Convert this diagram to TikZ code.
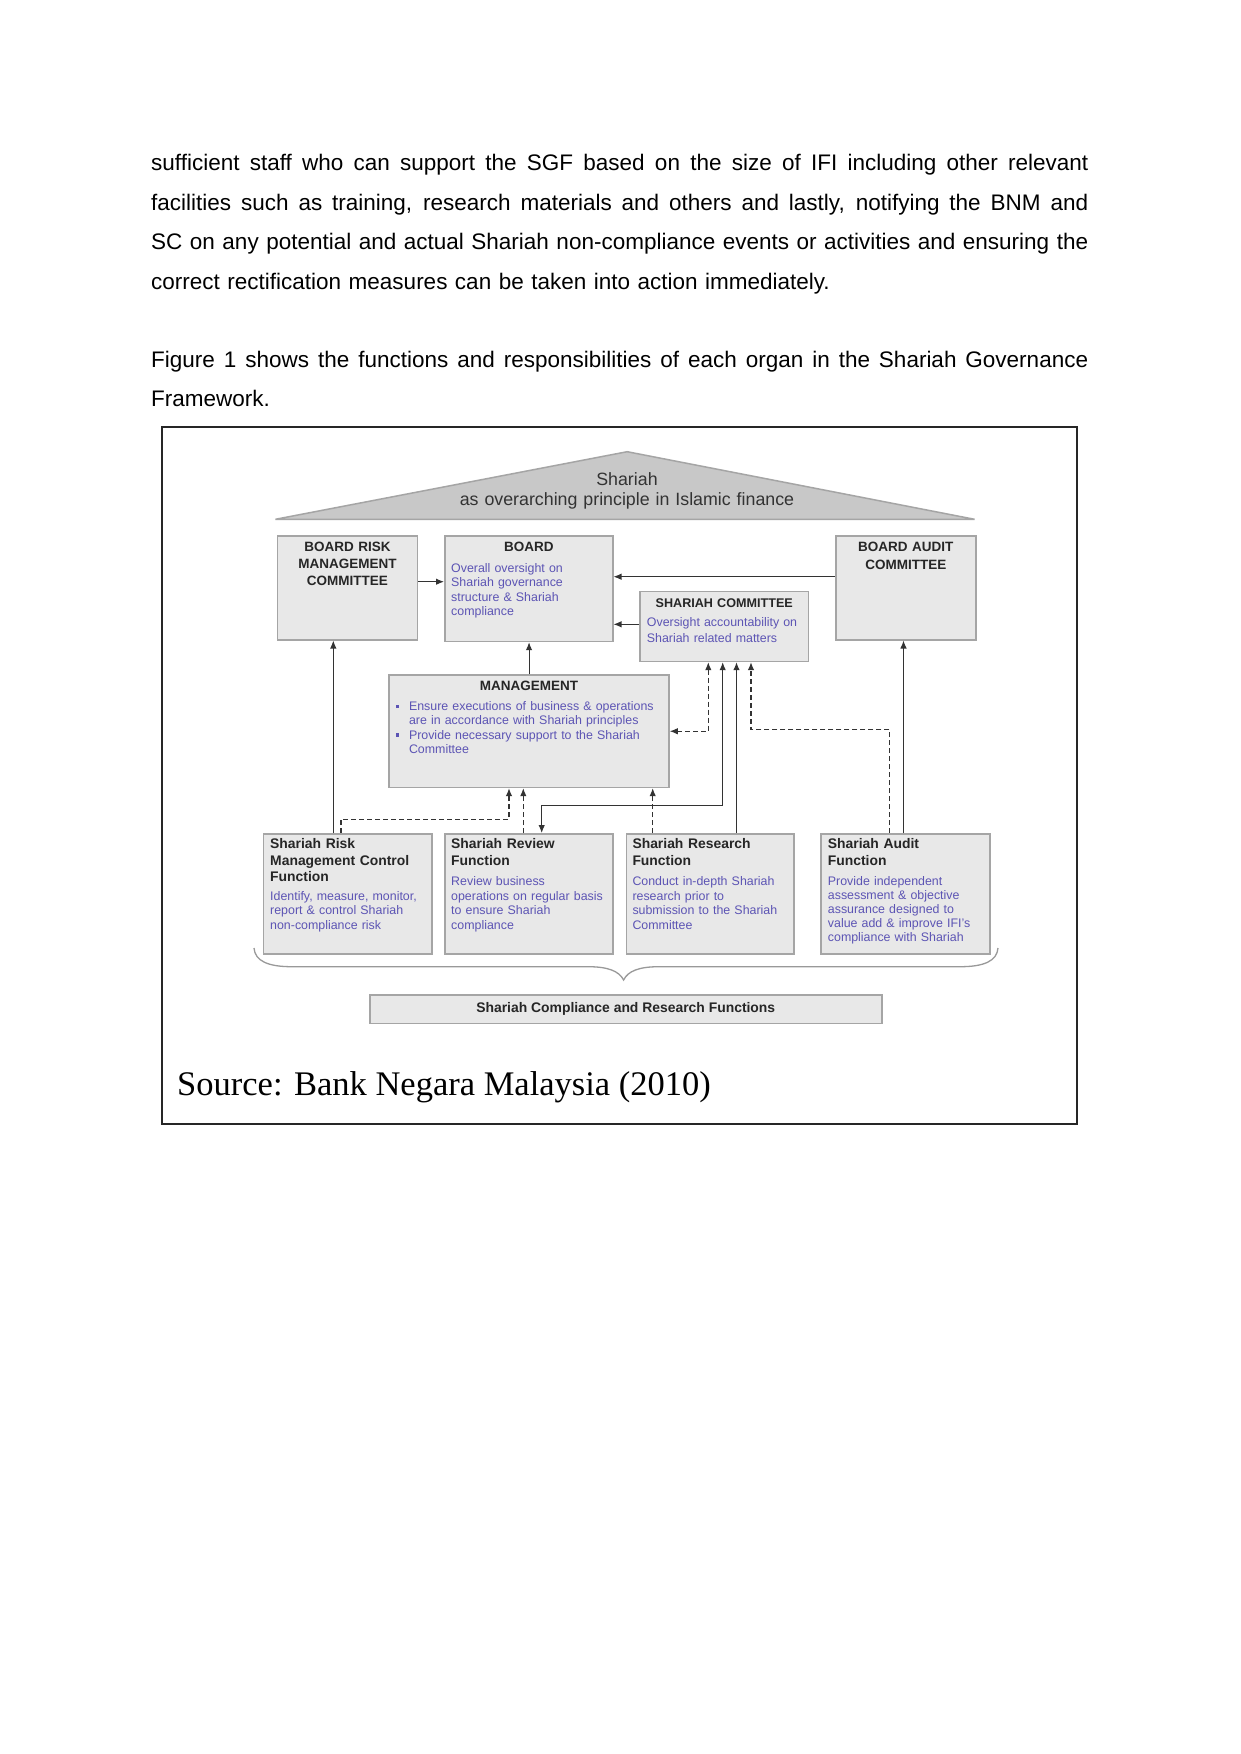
\documentclass[tikz,border=0pt]{standalone}
\usepackage{fontspec}
\setmainfont{Liberation Sans}
\newfontfamily\srcfont{Liberation Serif}
\usepackage{xcolor}
\usepackage{tikz}
\usetikzlibrary{arrows.meta,positioning}

\definecolor{fnblue}{RGB}{92,84,180}
\definecolor{boxgray}{RGB}{232,232,232}
\definecolor{edgegray}{RGB}{165,165,165}
\definecolor{roofgray}{RGB}{200,200,200}
\newcommand{\jline}[1]{\leavevmode\hbox to 937pt{\spaceskip=0.25em plus 1fil\relax #1}}
\newcommand{\bul}{\makebox[13.5pt][l]{\raisebox{2.6pt}{\rule{3.4pt}{3.4pt}}}}

\begin{document}
\begin{tikzpicture}[
    x=1pt, y=-1pt,
    orgbox/.style={rectangle, draw=edgegray, fill=boxgray, line width=1.5pt, anchor=north west, inner sep=0pt},
    ttl/.style={anchor=base, inner sep=0pt, align=center, text=black!85, font=\bfseries\fontsize{13.5}{16.7}\selectfont},
    ftl/.style={anchor=base west, inner sep=0pt, align=left, text width=170pt, text=black!85, font=\bfseries\fontsize{13.9}{16.7}\selectfont},
    desc/.style={anchor=base west, inner sep=0pt, align=left, text width=320pt, text=fnblue, font=\fontsize{12.4}{14.4}\selectfont},
    para/.style={anchor=base west, inner sep=0pt, align=left, text width=960pt, font=\fontsize{22.5}{39.5}\selectfont},
    arrow/.style={-{Latex[length=8pt,width=6.5pt]}, line width=1.1pt, draw=black!80},
    barrow/.style={{Latex[length=8pt,width=6.5pt]}-{Latex[length=8pt,width=6.5pt]}, line width=1.1pt, draw=black!80},
    dashed arrow/.style={arrow, dash pattern=on 5pt off 3pt},
    dashed barrow/.style={barrow, dash pattern=on 5pt off 3pt}
]
    \fill[white] (0,0) rectangle (1241,1754);
    \useasboundingbox (0,0) rectangle (1241,1754);

    % running text above the figure
    \node[para] (p1) at (151,170.7) {\jline{sufficient staff who can support the SGF based on the size of IFI including other relevant}\\\jline{facilities such as training, research materials and others and lastly, notifying the BNM and}\\\jline{SC on any potential and actual Shariah non-compliance events or activities and ensuring the}\\correct rectification measures can be taken into action immediately.};
    \node[para] (p2) at (151,367.3) {\jline{Figure 1 shows the functions and responsibilities of each organ in the Shariah Governance}\\Framework.};

    % frame and roof
    \draw[line width=2.8pt, black!85] (162,427) rectangle (1077,1124);
    \filldraw[fill=roofgray, draw=edgegray, line width=1.5pt] (275.4,519.3) -- (627.2,451.7) -- (974.6,519.3) -- cycle;
    \node[anchor=base, inner sep=0pt, align=center, text width=400pt, text=black!80, font=\fontsize{17.8}{20.5}\selectfont] (roof) at (627,485) {Shariah\\as overarching principle in Islamic finance};

    % board level
    \node[orgbox, minimum width=140pt, minimum height=104pt] (brmc) at (276.7,535) {};
    \node[ttl, text width=140pt] (brmc-t) at ([shift={(0,16.7)}]brmc.north) {BOARD RISK\\MANAGEMENT\\COMMITTEE};

    \node[orgbox, minimum width=168pt, minimum height=105.7pt] (board) at (444,535) {};
    \node[ttl, text width=168pt] (board-t) at ([shift={(0,16.7)}]board.north) {BOARD};
    \node[desc, font=\fontsize{12.4}{14.6}\selectfont] (board-d) at ([shift={(7,37)}]board.north west) {Overall oversight on\\Shariah governance\\structure \& Shariah\\compliance};

    \node[orgbox, minimum width=168.4pt, minimum height=70pt] (shc) at (639.3,590.7) {};
    \node[ttl, text width=168pt, font=\bfseries\fontsize{12.6}{15}\selectfont] (shc-t) at ([shift={(0,16.6)}]shc.north) {SHARIAH COMMITTEE};
    \node[desc, font=\fontsize{12.4}{16.6}\selectfont] (shc-d) at ([shift={(7.4,35.3)}]shc.north west) {Oversight accountability on\\Shariah related matters};

    \node[orgbox, minimum width=140pt, minimum height=104pt] (bac) at (835,535) {};
    \node[ttl, text width=140pt, font=\bfseries\fontsize{13.5}{17.6}\selectfont] (bac-t) at ([shift={(0,16.7)}]bac.north) {BOARD AUDIT\\COMMITTEE};

    \node[orgbox, minimum width=280pt, minimum height=112.4pt] (mgmt) at (388.3,674.3) {};
    \node[ttl, text width=280pt] (mgmt-t) at ([shift={(0,16.4)}]mgmt.north) {MANAGEMENT};
    \node[desc, font=\fontsize{12.4}{14.2}\selectfont] (mgmt-d) at ([shift={(7,36.4)}]mgmt.north west) {\bul Ensure executions of business \& operations\\\hspace*{13.5pt}are in accordance with Shariah principles\\\bul Provide necessary support to the Shariah\\\hspace*{13.5pt}Committee};

    % functions
    \node[orgbox, minimum width=168.3pt, minimum height=120pt] (srm) at (262.7,833) {};
    \node[ftl] (srm-t) at ([shift={(7.3,15.3)}]srm.north west) {Shariah Risk\\Management Control\\Function};
    \node[desc, font=\fontsize{12.4}{14.7}\selectfont] (srm-d) at ([shift={(7.3,67)}]srm.north west) {Identify, measure, monitor,\\report \& control Shariah\\non-compliance risk};

    \node[orgbox, minimum width=168.3pt, minimum height=120pt] (srv) at (444,833) {};
    \node[ftl] (srv-t) at ([shift={(7,15.3)}]srv.north west) {Shariah Review\\Function};
    \node[desc, font=\fontsize{12.4}{14.5}\selectfont] (srv-d) at ([shift={(7,52.7)}]srv.north west) {Review business\\operations on regular basis\\to ensure Shariah\\compliance};

    \node[orgbox, minimum width=167.6pt, minimum height=120pt] (srs) at (625.7,833) {};
    \node[ftl] (srs-t) at ([shift={(6.6,15.3)}]srs.north west) {Shariah Research\\Function};
    \node[desc, font=\fontsize{12.4}{14.5}\selectfont] (srs-d) at ([shift={(6.6,52.7)}]srs.north west) {Conduct in-depth Shariah\\research prior to\\submission to the Shariah\\Committee};

    \node[orgbox, minimum width=169pt, minimum height=120pt] (sau) at (820,833) {};
    \node[ftl] (sau-t) at ([shift={(7.7,15.3)}]sau.north west) {Shariah Audit\\Function};
    \node[desc, font=\fontsize{12.4}{14}\selectfont] (sau-d) at ([shift={(7.7,52.7)}]sau.north west) {Provide independent\\assessment \& objective\\assurance designed to\\value add \& improve IFI’s\\compliance with Shariah};

    \node[orgbox, minimum width=512pt, minimum height=28.7pt, text=black!85, font=\bfseries\fontsize{13.9}{16}\selectfont] (scrf) at (369,994) {Shariah Compliance and Research Functions};

    % brace over the four functions
    \draw[gray!80, line width=1.3pt] (254,948) .. controls (255,961) and (268,966.7) .. (292,966.7) -- (588,966.7) .. controls (608,966.7) and (619,971) .. (623.6,980) .. controls (628,971) and (639,966.7) .. (659,966.7) -- (960,966.7) .. controls (984,966.7) and (997,961) .. (998,948);

    % reporting lines
    \draw[arrow] (brmc.east |- 0,581.7) -- (board.west |- 0,581.7);
    \draw[arrow] (bac.west |- 0,576.7) -- (board.east |- 0,576.7);
    \draw[arrow] (shc.west |- 0,624.3) -- (board.east |- 0,624.3);
    \draw[arrow] (mgmt.north) -- (mgmt.north |- board.south);
    \draw[arrow] (srm.north -| 333.3,0) -- (brmc.south -| 333.3,0);
    \draw[arrow] (sau.north -| 903.5,0) -- (bac.south -| 903.5,0);
    \draw[arrow] (srs.north -| 736.5,0) -- (shc.south -| 736.5,0);
    \draw[barrow] (shc.south -| 722.7,0) |- (541.7,805.5) -- (srv.north -| 541.7,0);

    % dashed lines
    \draw[dashed arrow] (srm.north -| 341,0) |- (509,819.3) -- (mgmt.south -| 509,0);
    \draw[dashed arrow] (srv.north -| 523.3,0) -- (mgmt.south -| 523.3,0);
    \draw[dashed arrow] (srs.north -| 652.7,0) -- (mgmt.south -| 652.7,0);
    \draw[dashed barrow] (shc.south -| 708.3,0) |- (mgmt.east);
    \draw[dashed arrow] (sau.north -| 889.7,0) |- (751,729.3) -- (shc.south -| 751,0);

    \node[anchor=base west, inner sep=0pt, font=\srcfont\fontsize{34.5}{40}\selectfont] (src) at (177,1095) {Source: Bank Negara Malaysia (2010)};
\end{tikzpicture}
\end{document}
